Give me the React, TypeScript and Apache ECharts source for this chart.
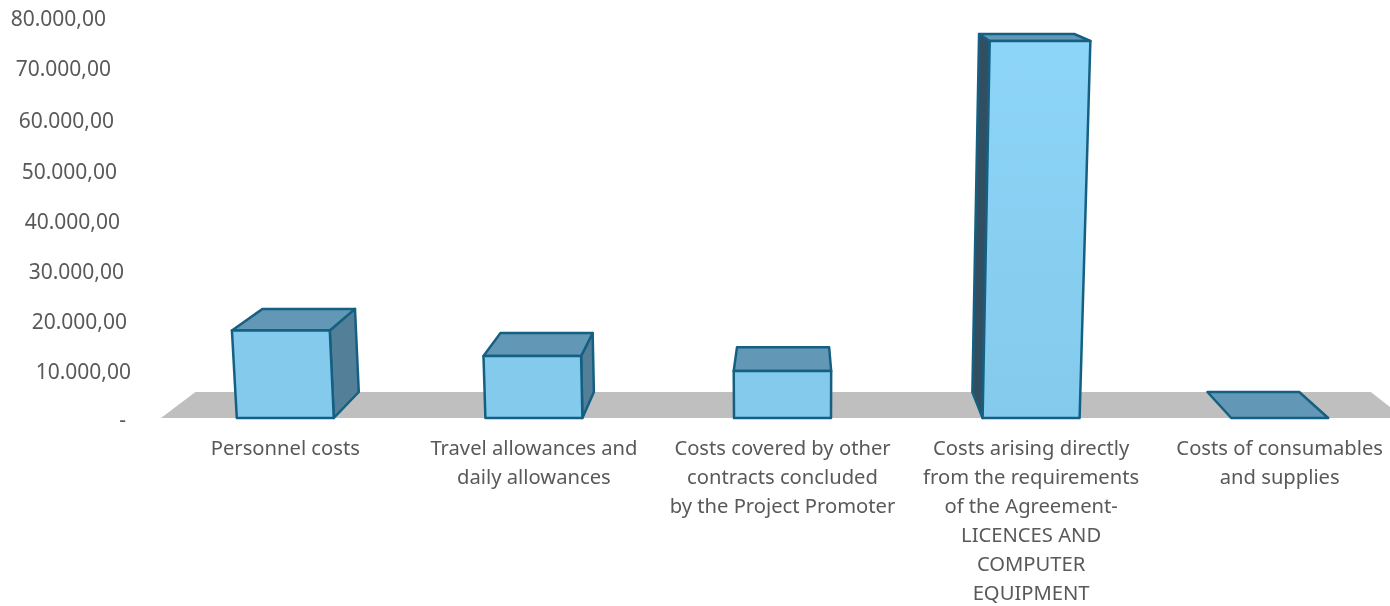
import React, { useEffect, useRef } from "react";
import * as echarts from "echarts";

const categories = [
  "Personnel costs",
  "Travel allowances and\ndaily allowances",
  "Costs covered by other\ncontracts concluded\nby the Project Promoter",
  "Costs arising directly\nfrom the requirements\nof the Agreement-\nLICENCES AND\nCOMPUTER\nEQUIPMENT",
  "Costs of consumables\nand supplies",
];
const costs = [17500, 12400, 9400, 75400, 0];
const tickLabels = ["-", "10.000,00", "20.000,00", "30.000,00", "40.000,00", "50.000,00", "60.000,00", "70.000,00", "80.000,00"];
const tickShift = [5, 0, 4, 7, 11, 14, 17, 20, 25];
const tickDrop = [1, 3, 3, 3, 3, 3, 2, 0, 0];

const VX = 794;
const VY = -98;
const SX = 0.9457;
const SY = 0.9496;
const LEAN = 1e-4;
const HALF = 48.5;
const STROKE = "#156082";

const back = (p: number[]) => [VX + (p[0] - VX) * SX, VY + (p[1] - VY) * SY];
const lean = (x: number, h: number) => x + (x - VX) * LEAN * h;

const renderFloor = (_p: any, api: any) => {
  const base = api.coord([0, 0]);
  const band = api.size([1, 0])[0];
  const l = base[0] - band / 2;
  const r = l + band * categories.length;
  const y = base[1];
  const a = [l, y];
  const b = [r, y];
  return {
    type: "polygon",
    silent: true,
    shape: { points: [a, b, back(b), back(a)] },
    style: { fill: "#BFBFBF", stroke: "none" },
  };
};

const renderBar = (_p: any, api: any) => {
  const idx = api.value(0);
  const base = api.coord([idx, 0]);
  const top = api.coord([idx, api.value(1)]);
  const h = base[1] - top[1];
  const bl = [base[0] - HALF, base[1]];
  const br = [base[0] + HALF, base[1]];
  const tl = [lean(bl[0], h), top[1]];
  const tr = [lean(br[0], h), top[1]];
  const poly = (points: number[][], fill: any, width = 2.5) => ({
    type: "polygon",
    shape: { points },
    style: { fill, stroke: STROKE, lineWidth: width, lineJoin: "round" },
  });
  const children: any[] = [];
  if (h > 0 && back(br)[0] > br[0]) children.push(poly([br, tr, back(tr), back(br)], "#537F98"));
  if (h > 0 && back(bl)[0] < bl[0]) children.push(poly([bl, tl, back(tl), back(bl)], "#314F60"));
  children.push(poly([tl, tr, back(tr), back(tl)], "#6298B5"));
  if (h > 0) {
    const fill =
      h > 200
        ? new echarts.graphic.LinearGradient(0, 0, 0, 1, [
            { offset: 0, color: "#8DD5F8" },
            { offset: 1, color: "#83CAEC" },
          ])
        : "#83CAEC";
    children.push(poly([bl, br, tr, tl], fill));
  }
  return { type: "group", children };
};

export default function App() {
  const ref = useRef<HTMLDivElement>(null);
  useEffect(() => {
    const chart = echarts.init(ref.current!, null, { renderer: "svg" });
    const rich: any = {};
    tickLabels.forEach((_, i) => {
      rich["t" + i] = {
        fontFamily: "Noto Sans",
        fontSize: 21,
        color: "#595959",
        padding: [tickDrop[i] * 2, tickShift[i], 0, 0],
      };
    });
    chart.setOption({
      animation: false,
      grid: { left: 161, top: 18, width: 1243, height: 400, containLabel: false, outerBoundsMode: "none" },
      xAxis: {
        type: "category",
        data: categories,
        axisLine: { show: false },
        axisTick: { show: false },
        axisLabel: {
          interval: 0,
          margin: 14,
          fontFamily: "Noto Sans",
          fontSize: 20.2,
          lineHeight: 29,
          color: "#595959",
          verticalAlign: "top",
          hideOverlap: false,
        },
      },
      yAxis: {
        type: "value",
        min: 0,
        max: 80000,
        interval: 10000,
        splitLine: { show: false },
        axisLine: { show: false },
        axisTick: { show: false },
        axisLabel: {
          margin: 30,
          formatter: (v: number) => {
            const i = Math.round(v / 10000);
            return `{t${i}|${tickLabels[i]}}`;
          },
          rich,
        },
      },
      series: [
        {
          type: "custom",
          z: 1,
          silent: true,
          clip: false,
          renderItem: renderFloor,
          data: [[0, 0]],
          encode: { x: 0, y: 1 },
        },
        {
          type: "custom",
          z: 2,
          clip: false,
          renderItem: renderBar,
          data: costs.map((v, i) => [i, v]),
          encode: { x: 0, y: 1 },
        },
      ],
    });
    return () => chart.dispose();
  }, []);
  return <div ref={ref} style={{ position: "fixed", left: 0, top: 0, width: 1390, height: 606 }} />;
}
